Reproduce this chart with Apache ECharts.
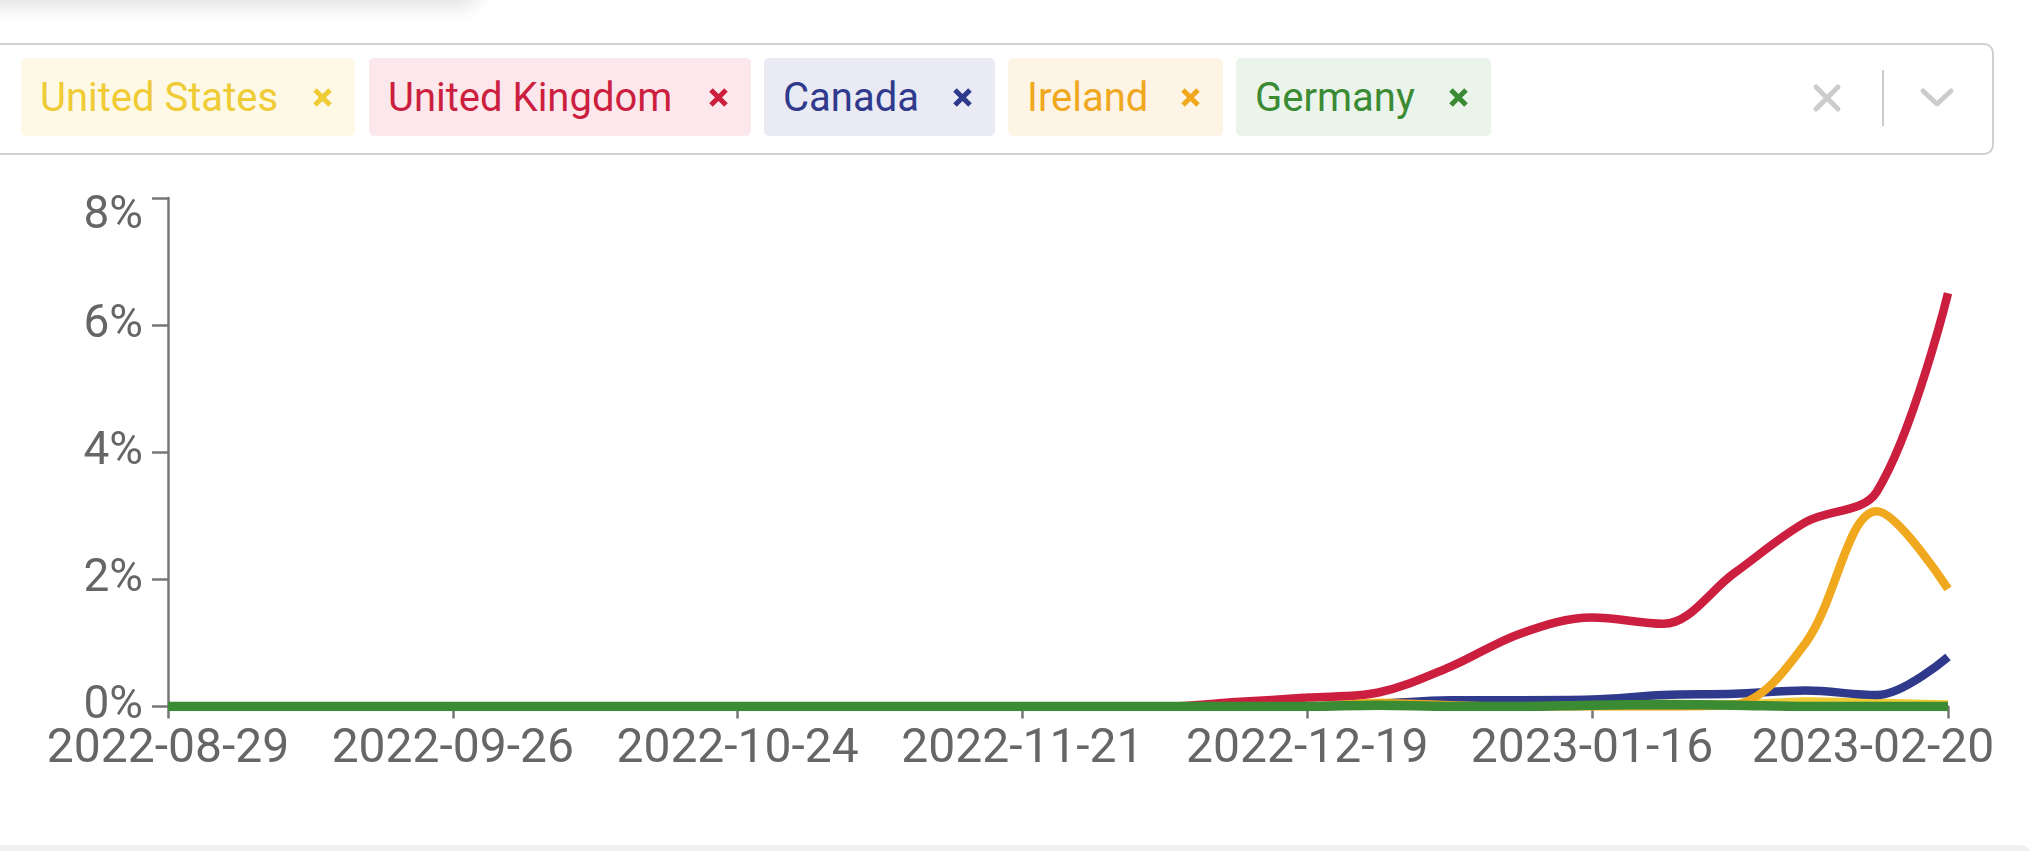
<!DOCTYPE html>
<html>
<head>
<meta charset="utf-8">
<script src="https://cdn.jsdelivr.net/npm/echarts@6/dist/echarts.min.js"></script>
<style>
  html, body { margin: 0; padding: 0; width: 2040px; height: 851px; overflow: hidden; background: #fff; font-family: Roboto, "Noto Sans", sans-serif; }
  #chart { position: absolute; left: 0; top: 0; width: 2040px; height: 851px; }
  .card-top { position: absolute; left: -20px; top: -100px; width: 500px; height: 100px; border-radius: 20px; background: #fff; box-shadow: 0 6px 20px rgba(0,0,0,0.13); }
  .box { position: absolute; left: -12px; top: 43px; width: 2002px; height: 108px; border: 2.5px solid #cfcfcf; border-radius: 10px; background: #fff; }
  .chip { position: absolute; top: 58px; height: 78px; border-radius: 5px; display: flex; align-items: center; box-sizing: border-box; padding-left: 19px; font-size: 40px; }
  .chip svg { position: absolute; top: 29px; }
  .bottom { position: absolute; left: -10px; top: 845px; width: 2042px; height: 30px; background: linear-gradient(#f2f2f2, #e3e3e3); border-top-right-radius: 12px; }
</style>
</head>
<body>
<div id="chart"></div>
<div class="card-top"></div>
<div class="box"></div>
<div id="chips"></div>
<svg style="position:absolute;left:1812px;top:83px" width="30" height="30"><path d="M4 4 L26 26 M26 4 L4 26" stroke="#cccccc" stroke-width="5" stroke-linecap="round"/></svg>
<div style="position:absolute;left:1882px;top:70px;width:2px;height:56px;background:#cccccc"></div>
<svg style="position:absolute;left:1919px;top:86px" width="36" height="24"><path d="M4 5 L18 18 L32 5" stroke="#cccccc" stroke-width="5" fill="none" stroke-linecap="round" stroke-linejoin="round"/></svg>
<div class="bottom"></div>
<script>
const dates = ['2022-08-29','2022-09-05','2022-09-12','2022-09-19','2022-09-26','2022-10-03','2022-10-10','2022-10-17','2022-10-24','2022-10-31','2022-11-07','2022-11-14','2022-11-21','2022-11-28','2022-12-05','2022-12-12','2022-12-19','2022-12-26','2023-01-02','2023-01-09','2023-01-16','2023-01-23','2023-01-30','2023-02-06','2023-02-13','2023-02-20'];
const tickLabels = ['2022-08-29','2022-09-26','2022-10-24','2022-11-21','2022-12-19','2023-01-16','2023-02-20'];
const seriesNames = ['United States','United Kingdom','Canada','Ireland','Germany'];
const unitedStates  = [0,0,0,0,0,0,0,0,0,0,0,0,0,0,0,0,0,0.06,0.06,0.02,0.02,0.04,0.03,0.08,0.06,0.03];
const unitedKingdom = [0,0,0,0,0,0,0,0,0,0,0,0,0,0,0,0.07,0.14,0.22,0.62,1.15,1.4,1.3,2.1,2.9,3.38,6.5];
const canada        = [0,0,0,0,0,0,0,0,0,0,0,0,0,0,0,0,0,0.04,0.1,0.1,0.11,0.18,0.2,0.25,0.18,0.78];
const ireland       = [0,0,0,0,0,0,0,0,0,0,0,0,0,0,0,0,0,0.05,0.02,0,0,0,0.03,1.0,3.07,1.85];
const germany       = [0,0,0,0,0,0,0,0,0,0,0,0,0,0,0,0,0,0.02,0,0,0.02,0.03,0.02,0,0,0];
const yTicks = [0,2,4,6,8];

const colors = ['#efcb35','#cc1f3f','#2f3a8c','#f0a81f','#3b8a34'];
const chipBg = ['#fef9e6','#fce8ec','#e9eaf3','#fef4e6','#ebf4ea'];
const chipLeft = [21,369,764,1008,1236];
const chipWidth = [334,382,231,215,255];
const allData = [unitedStates, unitedKingdom, canada, ireland, germany];

const chipsEl = document.getElementById('chips');
seriesNames.forEach((n, i) => {
  const d = document.createElement('div');
  d.className = 'chip';
  d.style.left = chipLeft[i] + 'px';
  d.style.width = chipWidth[i] + 'px';
  d.style.background = chipBg[i];
  d.style.color = colors[i];
  d.innerHTML = '<span>' + n + '</span><svg style="right:22px" width="21" height="21"><path d="M3 3 L18 18 M18 3 L3 18" stroke="' + colors[i] + '" stroke-width="5"/></svg>';
  chipsEl.appendChild(d);
});

const showIdx = (idx) => tickLabels.indexOf(dates[idx]) >= 0;
const lastDate = dates[dates.length - 1];

const chart = echarts.init(document.getElementById('chart'));
chart.setOption({
  animation: false,
  grid: { left: 168, right: 92, top: 198, bottom: 144.5, containLabel: false, outerBoundsMode: 'none' },
  xAxis: {
    type: 'category',
    data: dates,
    boundaryGap: false,
    axisLine: { show: true, lineStyle: { color: '#777', width: 2.5 } },
    axisTick: { show: true, length: 12, interval: (idx) => showIdx(idx), lineStyle: { color: '#777', width: 2.5 } },
    axisLabel: {
      interval: (idx) => showIdx(idx), fontSize: 48, color: '#666', fontFamily: 'Roboto', margin: 19,
      formatter: (v) => v === lastDate ? '{e|' + v + '}' : v,
      rich: { e: { fontSize: 48, color: '#666', fontFamily: 'Roboto', padding: [0, 150, 0, 0] } }
    },
    splitLine: { show: false }
  },
  yAxis: {
    type: 'value',
    min: yTicks[0],
    max: yTicks[yTicks.length - 1],
    interval: 2,
    axisLine: { show: true, lineStyle: { color: '#777', width: 2.5 } },
    axisTick: { show: true, length: 16, lineStyle: { color: '#777', width: 2.5 } },
    axisLabel: {
      fontSize: 46, color: '#666', fontFamily: 'Roboto', margin: 25,
      formatter: (v) => v === 8 ? '{t|' + v + '%}' : v + '%',
      rich: { t: { fontSize: 46, color: '#666', fontFamily: 'Roboto', padding: [36, 0, 0, 0] } }
    },
    splitLine: { show: false }
  },
  series: seriesNames.map((n, i) => ({
    name: n,
    type: 'line',
    data: allData[i],
    smooth: 0.35,
    showSymbol: false,
    lineStyle: { color: colors[i], width: i === 4 ? 9.5 : 8.5 },
    z: 2 + i
  }))
});
</script>
</body>
</html>
